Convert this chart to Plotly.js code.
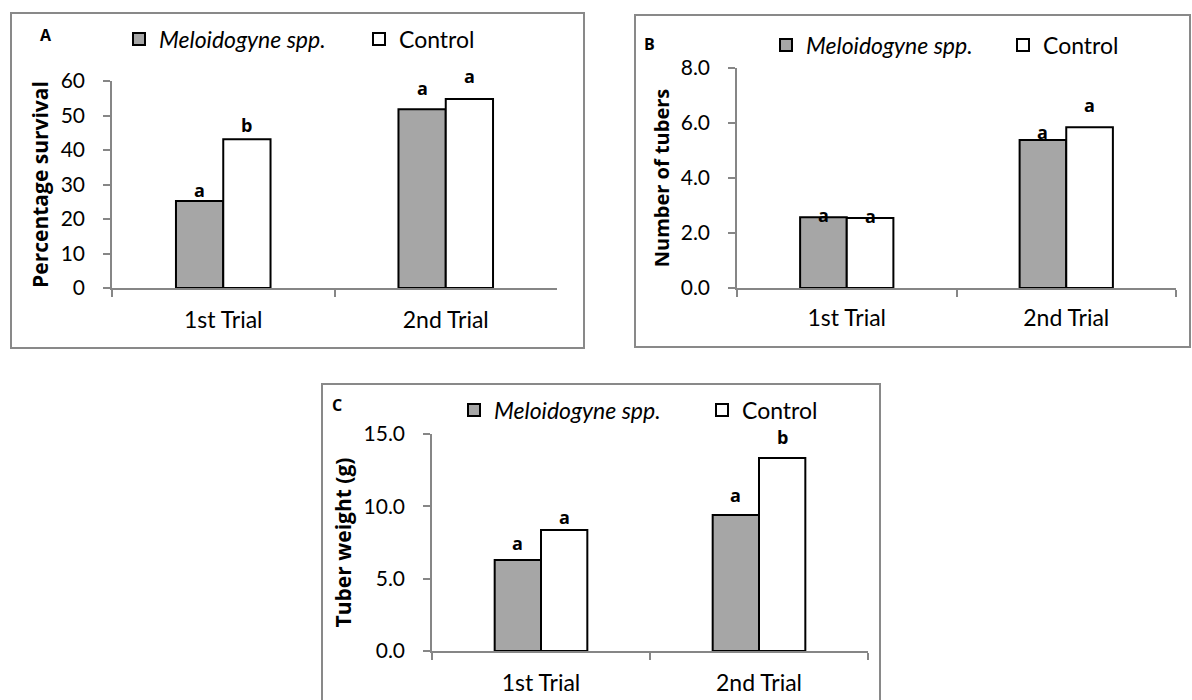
<!DOCTYPE html>
<html>
<head>
<meta charset="utf-8">
<script src="https://cdn.plot.ly/plotly-3.0.1.min.js"></script>
<style>html,body{margin:0;padding:0;background:#fff;overflow:hidden;}#chart{width:1192px;height:700px;}</style>
</head>
<body>
<div id="chart"></div>
<script>
// ---- data ----
const categories = ['1st Trial', '2nd Trial'];
const seriesNames = ['<i>Meloidogyne spp.</i>', 'Control'];

const survivalMel = [25.2, 51.8];
const survivalCtrl = [43.1, 54.8];
const tubersMel = [2.57, 5.38];
const tubersCtrl = [2.55, 5.85];
const weightMel = [6.29, 9.40];
const weightCtrl = [8.36, 13.34];

const lettersSurvivalMel = ['a', 'a'];
const lettersSurvivalCtrl = ['b', 'a'];
const lettersTubersMel = ['a', 'a'];
const lettersTubersCtrl = ['a', 'a'];
const lettersWeightMel = ['a', 'a'];
const lettersWeightCtrl = ['a', 'b'];

const yTitles = ['Percentage survival', 'Number of tubers', 'Tuber weight (g)'];
const panelLabels = ['A', 'B', 'C'];

// ---- style / layout helpers ----
const W = 1192, H = 700;
const FONT = 'Lato, "Open Sans", sans-serif';
const BOLDFONT = '"Open Sans", "Liberation Sans", sans-serif';
const GRAY = '#a6a6a6';
const AXIS = '#868686';
const BARGAP = 0.575;
const off = (1 - BARGAP) / 4;
const px = v => v / W;
const py = v => 1 - v / H;

// letter pads (px above bar top)
const padSurvMel = [11, 21], padSurvCtrl = [14, 23];
const padTubMel = [2, 8], padTubCtrl = [2, 22];
const padWtMel = [17, 20], padWtCtrl = [13, 21];

const panels = [
  {xa: 'x', ya: 'y', mel: survivalMel, ctrl: survivalCtrl, lm: lettersSurvivalMel, lc: lettersSurvivalCtrl,
   pm: padSurvMel, pc: padSurvCtrl, xd: [112, 557], yd: [288, 81], range: [0, 60], dtick: 10, fmt: 'd',
   frame: [11, 13, 584, 348], lab: [46, 35], leg: [119, 39], ew: 195, catY: 322, titleStand: 6, tsize: 21},
  {xa: 'x2', ya: 'y2', mel: tubersMel, ctrl: tubersCtrl, lm: lettersTubersMel, lc: lettersTubersCtrl,
   pm: padTubMel, pc: padTubCtrl, xd: [737, 1176], yd: [288, 68], range: [0, 8], dtick: 2, fmt: '.1f',
   frame: [635, 15, 1190, 347], lab: [649, 44], leg: [766, 45], ew: 192, catY: 320, titleStand: 6, tsize: 20},
  {xa: 'x3', ya: 'y3', mel: weightMel, ctrl: weightCtrl, lm: lettersWeightMel, lc: lettersWeightCtrl,
   pm: padWtMel, pc: padWtCtrl, xd: [432, 868], yd: [651, 434], range: [0, 15], dtick: 5, fmt: '.1f',
   frame: [322, 384, 880, 710], lab: [337, 405], leg: [454, 410], ew: 203, catY: 685, titleStand: 6, tsize: 21}
];

const traces = [];
const annotations = [];
const shapes = [];
const layout = {
  width: W, height: H,
  margin: {l: 0, r: 0, t: 0, b: 0, autoexpand: false},
  paper_bgcolor: '#fff', plot_bgcolor: 'rgba(0,0,0,0)',
  barmode: 'group', bargap: BARGAP, bargroupgap: 0,
  font: {family: FONT, color: '#000', size: 18},
  showlegend: true
};

panels.forEach((p, i) => {
  const legKey = i === 0 ? 'legend' : 'legend' + (i + 1);
  traces.push({
    type: 'bar', x: categories, y: p.mel, name: seriesNames[0], xaxis: p.xa, yaxis: p.ya,
    legend: legKey, marker: {color: GRAY, line: {color: '#000', width: 2}}, hoverinfo: 'y'
  });
  traces.push({
    type: 'bar', x: categories, y: p.ctrl, name: seriesNames[1], xaxis: p.xa, yaxis: p.ya,
    legend: legKey, marker: {color: '#fff', line: {color: '#000', width: 2}}, hoverinfo: 'y'
  });
  const sfx = i === 0 ? '' : String(i + 1);
  layout['xaxis' + sfx] = {
    domain: [px(p.xd[0]), px(p.xd[1])], anchor: p.ya, type: 'category',
    range: [-0.5, 1.5], showline: true, linecolor: AXIS, linewidth: 1.5,
    ticks: 'outside', tickson: 'boundaries', ticklen: 7, tickcolor: AXIS, tickwidth: 1.5,
    tickfont: {size: 23, family: FONT}, showgrid: false, zeroline: false,
    ticklabelstandoff: p.catY - p.yd[0] - 23, fixedrange: true, automargin: false
  };
  layout['yaxis' + sfx] = {
    domain: [py(p.yd[0]), py(p.yd[1])], anchor: p.xa, range: p.range, dtick: p.dtick, tickformat: p.fmt,
    showline: true, linecolor: AXIS, linewidth: 1.5, ticks: 'outside', ticklen: 7, tickcolor: AXIS, tickwidth: 1.5,
    tickfont: {size: 21, family: FONT}, showgrid: false, zeroline: false, ticklabelstandoff: 14,
    title: {text: yTitles[i], font: {size: p.tsize, family: BOLDFONT, weight: 'bold'}, standoff: p.titleStand},
    automargin: false, fixedrange: true
  };
  layout[legKey] = {
    orientation: 'h', x: px(p.leg[0]), y: py(p.leg[1]), xanchor: 'left', yanchor: 'middle',
    bgcolor: 'rgba(0,0,0,0)', borderwidth: 0, font: {size: 23, family: FONT},
    entrywidth: p.ew, entrywidthmode: 'pixels', itemclick: false, itemdoubleclick: false, traceorder: 'normal'
  };
  // frame
  shapes.push({type: 'rect', xref: 'paper', yref: 'paper', x0: px(p.frame[0]), x1: px(p.frame[2]),
    y0: py(p.frame[3]), y1: py(p.frame[1]), line: {color: '#898989', width: 2}, fillcolor: 'rgba(0,0,0,0)', layer: 'below'});
  // panel label
  annotations.push({xref: 'paper', yref: 'paper', x: px(p.lab[0]), y: py(p.lab[1]), text: panelLabels[i],
    showarrow: false, xanchor: 'center', yanchor: 'middle', font: {size: 16, family: BOLDFONT, weight: 'bold'}});
  // significance letters
  categories.forEach((c, k) => {
    annotations.push({xref: p.xa, yref: p.ya, x: k - off, y: p.mel[k], yshift: p.pm[k], text: p.lm[k],
      showarrow: false, xanchor: 'center', yanchor: 'middle', font: {size: 18, family: BOLDFONT, weight: 'bold'}});
    annotations.push({xref: p.xa, yref: p.ya, x: k + off, y: p.ctrl[k], yshift: p.pc[k], text: p.lc[k],
      showarrow: false, xanchor: 'center', yanchor: 'middle', font: {size: 18, family: BOLDFONT, weight: 'bold'}});
  });
});

layout.annotations = annotations;
layout.shapes = shapes;

Plotly.newPlot('chart', traces, layout, {displayModeBar: false});
</script>
</body>
</html>
